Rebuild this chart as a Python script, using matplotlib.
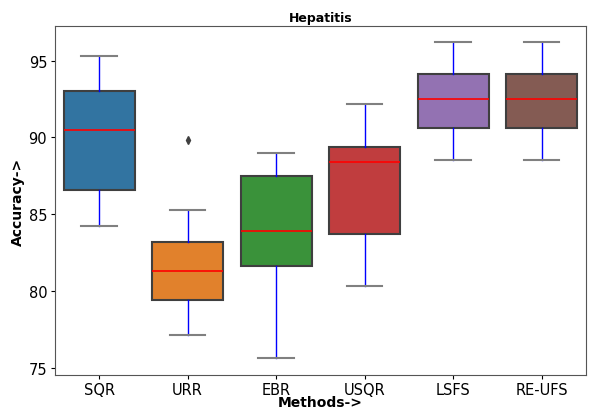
import matplotlib
matplotlib.use("Agg")
import matplotlib.pyplot as plt

methods = ['SQR', 'URR', 'EBR', 'USQR', 'LSFS', 'RE-UFS']
whislo = [84.2, 77.1, 75.6, 80.3, 88.5, 88.5]
q1 = [86.6, 79.4, 81.6, 83.7, 90.6, 90.6]
med = [90.5, 81.3, 83.9, 88.4, 92.5, 92.5]
q3 = [93.0, 83.2, 87.5, 89.4, 94.1, 94.1]
whishi = [95.3, 85.3, 89.0, 92.2, 96.2, 96.2]
fliers = [[], [89.8], [], [], [], []]
colors = ['#3274a1', '#e1812c', '#3a923a', '#c03d3e', '#9372b2', '#845b53']

stats = []
for i, m in enumerate(methods):
    stats.append({'label': m, 'whislo': whislo[i], 'q1': q1[i], 'med': med[i],
                  'q3': q3[i], 'whishi': whishi[i], 'fliers': fliers[i]})

fig = plt.figure(figsize=(5.9, 4.1), dpi=100)
ax = fig.add_axes([0.093, 0.082, 0.9, 0.852])

bp = ax.bxp(stats, positions=range(len(methods)), widths=0.8, patch_artist=True,
            boxprops=dict(edgecolor='#3f3f3f', linewidth=1.5),
            whiskerprops=dict(color='blue', linewidth=1.0),
            capprops=dict(color='#808080', linewidth=1.5),
            medianprops=dict(color='red', linewidth=1.2),
            flierprops=dict(marker='d', markerfacecolor='#3f3f3f',
                            markeredgecolor='#3f3f3f', markersize=4))
for patch, c in zip(bp['boxes'], colors):
    patch.set_facecolor(c)

ax.set_xlim(-0.5, len(methods) - 0.5)
ax.set_ylim(74.5, 97.25)
ax.set_yticks([75, 80, 85, 90, 95])
ax.tick_params(labelsize=10.5, length=3, pad=2.5)
ax.tick_params(axis='x', pad=1.5)
for s in ax.spines.values():
    s.set_color('#555555')

ax.set_title('Hepatitis', fontsize=9, fontweight='bold', pad=4)
ax.set_xlabel('Methods->', fontsize=10, fontweight='bold', labelpad=-1)
ax.set_ylabel('Accuracy->', fontsize=10, fontweight='bold', labelpad=3)

fig.savefig('out.png')
